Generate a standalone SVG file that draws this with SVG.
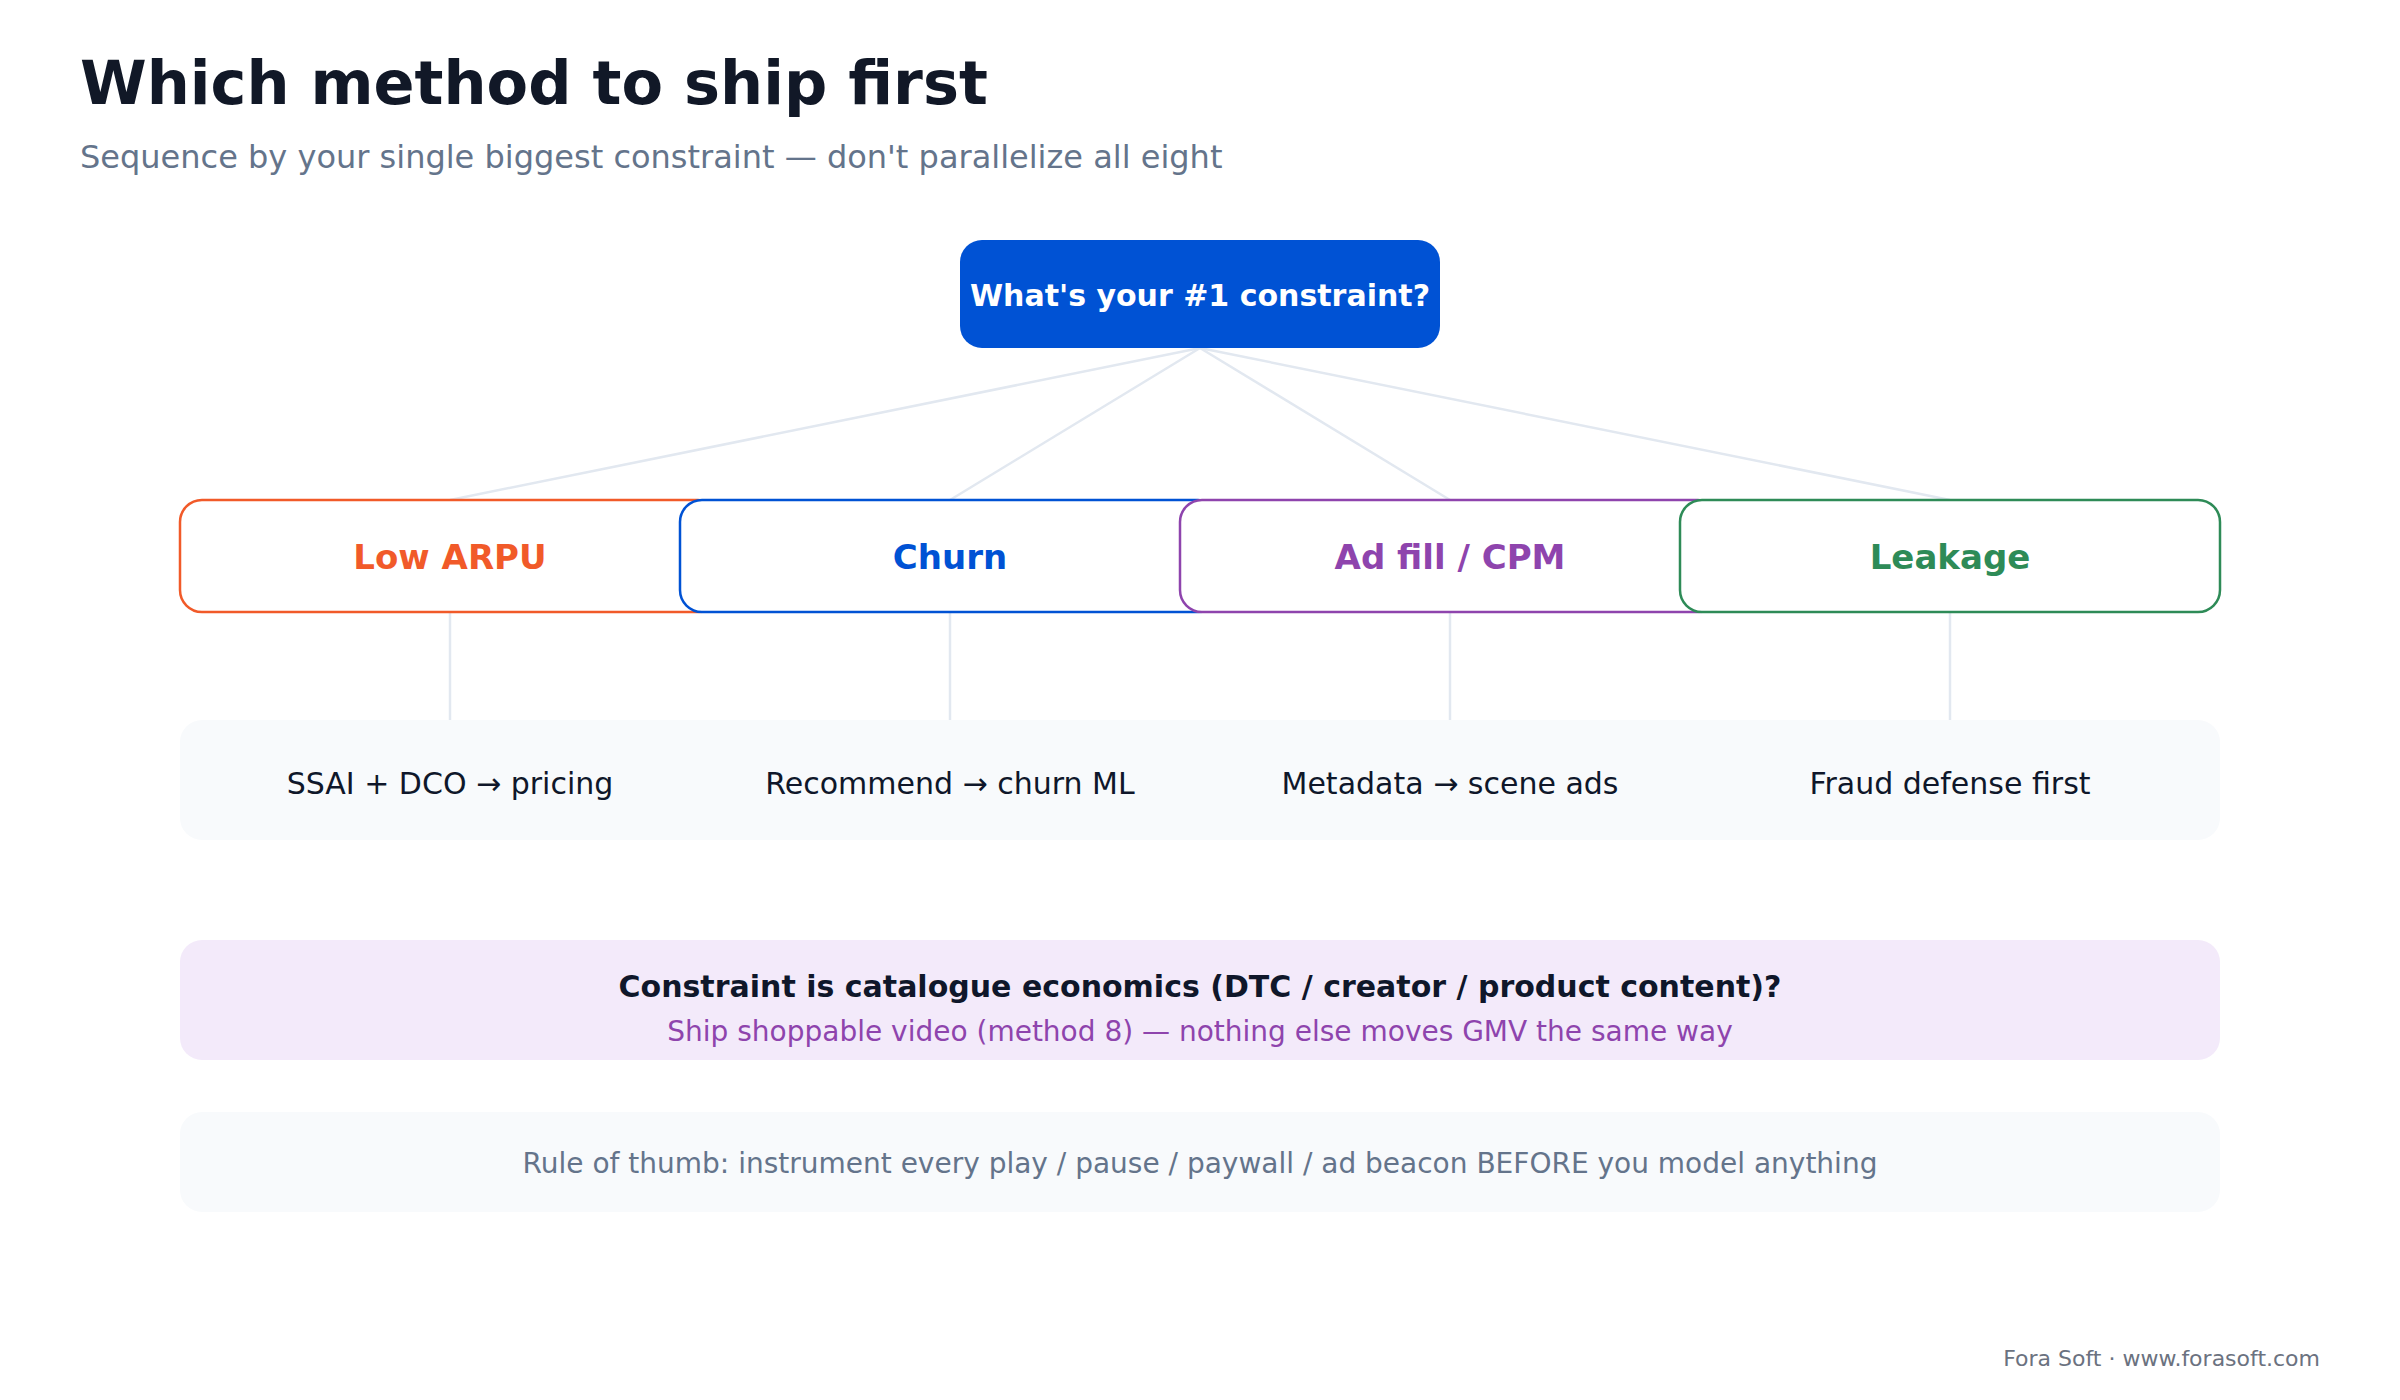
<svg xmlns="http://www.w3.org/2000/svg" width="2400" height="1400" viewBox="0 0 2400 1400">
<style>
text{font-family:"DejaVu Sans","Liberation Sans",sans-serif}
.title{font-size:60.5px;font-weight:bold;fill:#111827}
.sub{font-size:32px;fill:#64748b}
.root{fill:#0052d4}
.rootT{font-size:30px;font-weight:bold;fill:#ffffff;text-anchor:middle}
.child{fill:#ffffff;stroke-width:2.5}
.childT{font-size:34px;font-weight:bold;text-anchor:middle}
.bar{fill:#f8fafc}
.res{font-size:30px;fill:#0f172a;text-anchor:middle}
.conn line{stroke:#e2e8f0;stroke-width:2.5;fill:none}
.call{fill:#f3eafa}
.callB{font-size:30px;font-weight:bold;fill:#0f172a;text-anchor:middle}
.callP{font-size:28px;fill:#8e44ad;text-anchor:middle}
.rule{font-size:28px;fill:#64748b;text-anchor:middle}
.foot{font-size:22px;fill:#6b7280;text-anchor:end}
</style>
<rect width="2400" height="1400" fill="#ffffff"/>
<text class="title" x="80" y="104">Which method to ship first</text>
<text class="sub" x="80" y="168">Sequence by your single biggest constraint — don't parallelize all eight</text>

<g id="connectors" class="conn">
<line x1="1200" y1="348" x2="450" y2="500"/>
<line x1="1200" y1="348" x2="950" y2="500"/>
<line x1="1200" y1="348" x2="1450" y2="500"/>
<line x1="1200" y1="348" x2="1950" y2="500"/>
<line x1="450" y1="612" x2="450" y2="720"/>
<line x1="950" y1="612" x2="950" y2="720"/>
<line x1="1450" y1="612" x2="1450" y2="720"/>
<line x1="1950" y1="612" x2="1950" y2="720"/>
</g>

<g id="root">
<rect class="root" x="960" y="240" width="480" height="108" rx="22"/>
<text class="rootT" x="1200" y="306">What's your #1 constraint?</text>
</g>

<g id="low-arpu">
<rect class="child" x="180" y="500" width="540" height="112" rx="22" stroke="#f15a29"/>
<text class="childT" x="450" y="569" fill="#f15a29">Low ARPU</text>
</g>
<g id="churn">
<rect class="child" x="680" y="500" width="540" height="112" rx="22" stroke="#0052d4"/>
<text class="childT" x="950" y="569" fill="#0052d4">Churn</text>
</g>
<g id="ad-fill">
<rect class="child" x="1180" y="500" width="540" height="112" rx="22" stroke="#8e44ad"/>
<text class="childT" x="1450" y="569" fill="#8e44ad">Ad fill / CPM</text>
</g>
<g id="leakage">
<rect class="child" x="1680" y="500" width="540" height="112" rx="22" stroke="#2e8b57"/>
<text class="childT" x="1950" y="569" fill="#2e8b57">Leakage</text>
</g>

<g id="results">
<rect class="bar" x="180" y="720" width="2040" height="120" rx="22"/>
<text class="res" x="450" y="794">SSAI + DCO → pricing</text>
<text class="res" x="950" y="794">Recommend → churn ML</text>
<text class="res" x="1450" y="794">Metadata → scene ads</text>
<text class="res" x="1950" y="794">Fraud defense first</text>
</g>

<g id="callout">
<rect class="call" x="180" y="940" width="2040" height="120" rx="22"/>
<text class="callB" x="1200" y="997">Constraint is catalogue economics (DTC / creator / product content)?</text>
<text class="callP" x="1200" y="1041">Ship shoppable video (method 8) — nothing else moves GMV the same way</text>
</g>

<g id="rule">
<rect class="bar" x="180" y="1112" width="2040" height="100" rx="22"/>
<text class="rule" x="1200" y="1173">Rule of thumb: instrument every play / pause / paywall / ad beacon BEFORE you model anything</text>
</g>

<text class="foot" x="2320" y="1366">Fora Soft · www.forasoft.com</text>
</svg>
